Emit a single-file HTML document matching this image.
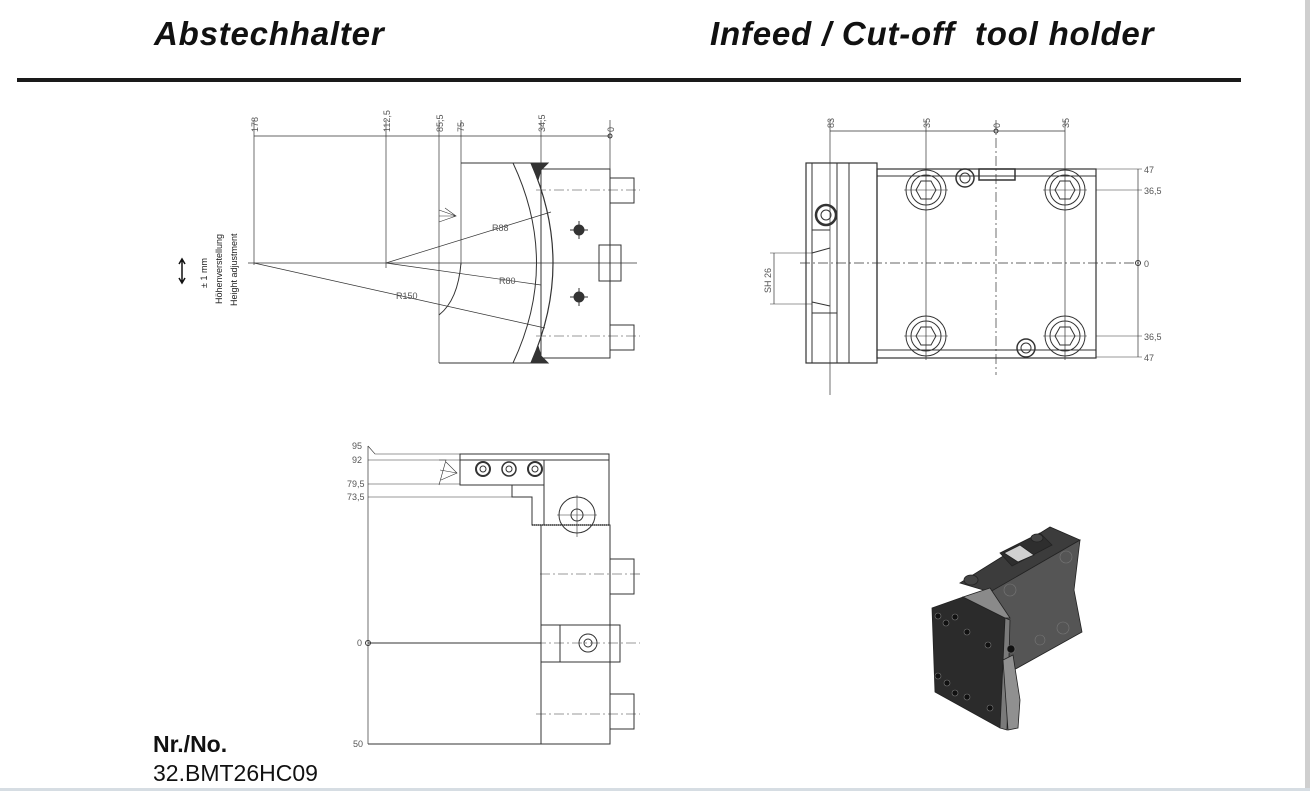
<!DOCTYPE html>
<html><head><meta charset="utf-8"><style>
html,body{margin:0;padding:0;background:#fff;}
body{width:1310px;height:791px;position:relative;overflow:hidden;font-family:"Liberation Sans",sans-serif;}
.h{position:absolute;top:15px;font-size:33px;font-weight:bold;font-style:italic;color:#111;letter-spacing:0.8px;}
svg{position:absolute;left:0;top:0;}
</style></head><body>
<div class="h" style="left:154px;">Abstechhalter</div>
<div class="h" style="left:710px;">Infeed / Cut-off&nbsp; tool holder</div>
<div style="position:absolute;left:17px;top:78px;width:1224px;height:4px;background:#1a1a1a;"></div>
<div style="position:absolute;left:1305px;top:0;width:5px;height:791px;background:#cfcfcf;"></div>
<div style="position:absolute;left:0;top:788px;width:1310px;height:3px;background:#d6dde3;"></div>
<div style="position:absolute;left:153px;top:731px;font-size:23px;font-weight:bold;color:#111;">Nr./No.</div>
<div style="position:absolute;left:153px;top:760px;font-size:23px;color:#111;">32.BMT26HC09</div>

<svg width="1310" height="791" viewBox="0 0 1310 791">
<g fill="none" stroke="#333" stroke-width="1" font-family="Liberation Sans, sans-serif">
<!-- FRONT VIEW -->
<line x1="254" y1="136" x2="610" y2="136" stroke-width="0.7"/>
<g stroke-width="0.7">
<line x1="254" y1="120" x2="254" y2="265"/><line x1="386" y1="120" x2="386" y2="268"/>
<line x1="439" y1="120" x2="439" y2="363"/><line x1="461" y1="120" x2="461" y2="265"/>
<line x1="541" y1="120" x2="541" y2="170"/><line x1="610" y1="120" x2="610" y2="170"/>
</g>
<circle cx="610" cy="136" r="2"/>
<line x1="248" y1="263" x2="637" y2="263" stroke-width="0.7"/>
<line x1="439" y1="363" x2="541" y2="363"/>
<line x1="461" y1="163" x2="541" y2="163"/>
<path d="M461 263 Q458 300 439 315"/>
<path d="M513 163 Q560 263 513 363"/>
<path d="M531 163 Q575 263 531 363" stroke-width="1.2"/>
<rect x="541" y="169" width="69" height="189"/>
<polygon points="531,163 548,163 541,170 538,180" fill="#333"/>
<polygon points="531,363 548,363 541,356 538,346" fill="#333"/>
<rect x="610" y="178" width="24" height="25"/><rect x="610" y="325" width="24" height="25"/>
<rect x="599" y="245" width="22" height="36"/>
<line x1="536" y1="190" x2="640" y2="190" stroke-dasharray="10 3 2 3" stroke-width="0.6"/>
<line x1="536" y1="336" x2="640" y2="336" stroke-dasharray="10 3 2 3" stroke-width="0.6"/>
<circle cx="579" cy="230" r="5" fill="#333"/><circle cx="579" cy="297" r="5" fill="#333"/>
<line x1="570" y1="230" x2="588" y2="230"/><line x1="579" y1="221" x2="579" y2="239"/>
<line x1="570" y1="297" x2="588" y2="297"/><line x1="579" y1="288" x2="579" y2="306"/>
<line x1="386" y1="263" x2="551" y2="212" stroke-width="0.7"/>
<line x1="386" y1="263" x2="541" y2="285" stroke-width="0.7"/>
<line x1="254" y1="263" x2="545" y2="328" stroke-width="0.7"/>
<path d="M439 210 L456 216 L439 222 M439 216 L456 216 M445 208 L456 216" stroke-width="0.6"/>
<g fill="#555" stroke="none" font-size="9">
<text transform="translate(258,132) rotate(-90)">178</text>
<text transform="translate(390,132) rotate(-90)">112,5</text>
<text transform="translate(443,132) rotate(-90)">85,5</text>
<text transform="translate(464,132) rotate(-90)">75</text>
<text transform="translate(545,132) rotate(-90)">34,5</text>
<text transform="translate(614,132) rotate(-90)">0</text>
<text x="492" y="231">R88</text>
<text x="499" y="284">R80</text>
<text x="396" y="299">R150</text>
<text transform="translate(207,288) rotate(-90)" fill="#222">± 1 mm</text>
<text transform="translate(222,304) rotate(-90)" fill="#222">Höhenverstellung</text>
<text transform="translate(237,306) rotate(-90)" fill="#222">Height  adjustment</text>
</g>
<path d="M182 260 L182 282 M179 264 L182 259 L185 264 M179 278 L182 283 L185 278" stroke="#111" stroke-width="1.5"/>

<!-- SIDE VIEW -->
<line x1="830" y1="131" x2="1065" y2="131" stroke-width="0.7"/>
<g stroke-width="0.7">
<line x1="830" y1="120" x2="830" y2="395"/><line x1="926" y1="120" x2="926" y2="360"/>
<line x1="1065" y1="120" x2="1065" y2="360"/>
</g>
<line x1="996" y1="120" x2="996" y2="375" stroke-dasharray="10 3 2 3" stroke-width="0.7"/>
<circle cx="996" cy="131" r="2"/>
<rect x="806" y="163" width="71" height="200" stroke-width="1.2"/>
<line x1="812" y1="163" x2="812" y2="363"/><line x1="837" y1="163" x2="837" y2="363"/><line x1="849" y1="163" x2="849" y2="363"/>
<rect x="877" y="169" width="219" height="189" stroke-width="1.2"/>
<line x1="877" y1="176" x2="1096" y2="176"/><line x1="877" y1="350" x2="1096" y2="350"/>
<line x1="812" y1="230" x2="830" y2="230"/><line x1="812" y1="313" x2="837" y2="313"/>
<path d="M812 253 L830 248 M812 302 L830 306"/>
<line x1="800" y1="263" x2="1140" y2="263" stroke-dasharray="10 3 2 3" stroke-width="0.7"/>
<g>
<circle cx="926" cy="190" r="20"/><circle cx="926" cy="190" r="15"/>
<circle cx="1065" cy="190" r="20"/><circle cx="1065" cy="190" r="15"/>
<circle cx="926" cy="336" r="20"/><circle cx="926" cy="336" r="15"/>
<circle cx="1065" cy="336" r="20"/><circle cx="1065" cy="336" r="15"/>
<polygon points="916,190 921,181 931,181 936,190 931,199 921,199"/>
<polygon points="1055,190 1060,181 1070,181 1075,190 1070,199 1060,199"/>
<polygon points="916,336 921,327 931,327 936,336 931,345 921,345"/>
<polygon points="1055,336 1060,327 1070,327 1075,336 1070,345 1060,345"/>
<path d="M904 190 H948 M1043 190 H1087 M904 336 H948 M1043 336 H1087" stroke-width="0.6"/>
</g>
<circle cx="965" cy="178" r="9" stroke-width="1.5"/><circle cx="965" cy="178" r="5"/>
<circle cx="1026" cy="348" r="9" stroke-width="1.5"/><circle cx="1026" cy="348" r="5"/>
<circle cx="826" cy="215" r="10" stroke-width="2.5"/><circle cx="826" cy="215" r="5"/>
<rect x="979" y="169" width="36" height="11" stroke-width="1.5"/>
<line x1="1138" y1="169" x2="1138" y2="357" stroke-width="0.7"/>
<path d="M1096 169 H1142 M1096 190 H1142 M1096 336 H1142 M1096 357 H1142" stroke-width="0.6"/>
<circle cx="1138" cy="263" r="2.5"/>
<line x1="774" y1="253" x2="774" y2="304" stroke-width="0.7"/>
<path d="M770 253 H812 M770 304 H812" stroke-width="0.6"/>
<g fill="#555" stroke="none" font-size="9">
<text transform="translate(834,128) rotate(-90)">83</text>
<text transform="translate(930,128) rotate(-90)">35</text>
<text transform="translate(1000,128) rotate(-90)">0</text>
<text transform="translate(1069,128) rotate(-90)">35</text>
<text x="1144" y="173">47</text><text x="1144" y="194">36,5</text>
<text x="1144" y="267">0</text><text x="1144" y="340">36,5</text><text x="1144" y="361">47</text>
<text transform="translate(771,293) rotate(-90)">SH 26</text>
</g>

<!-- TOP VIEW -->
<line x1="368" y1="446" x2="368" y2="744" stroke-width="0.7"/>
<path d="M368 446 L375 454 L460 454" stroke-width="0.6"/>
<path d="M368 460 H460 M368 484 H460 M368 497 H512" stroke-width="0.6"/>
<rect x="460" y="454" width="149" height="6"/>
<rect x="460" y="460" width="84" height="25"/>
<rect x="544" y="460" width="65" height="65"/>
<path d="M460 485 L512 485 L512 497 L532 497 L532 525 L544 525" />
<path d="M532 525 H610" stroke-width="1.5" stroke-dasharray="1 1"/>
<rect x="541" y="525" width="69" height="219"/>
<line x1="368" y1="744" x2="541" y2="744"/>
<line x1="368" y1="643" x2="541" y2="643"/>
<circle cx="368" cy="643" r="2.5"/>
<rect x="541" y="625" width="79" height="37"/><line x1="560" y1="625" x2="560" y2="662"/>
<circle cx="588" cy="643" r="9"/><circle cx="588" cy="643" r="4"/>
<line x1="536" y1="643" x2="640" y2="643" stroke-dasharray="10 3 2 3" stroke-width="0.6"/>
<rect x="610" y="559" width="24" height="35"/><rect x="610" y="694" width="24" height="35"/>
<line x1="540" y1="574" x2="640" y2="574" stroke-dasharray="10 3 2 3" stroke-width="0.6"/>
<line x1="536" y1="714" x2="640" y2="714" stroke-dasharray="10 3 2 3" stroke-width="0.6"/>
<circle cx="577" cy="515" r="18"/><circle cx="577" cy="515" r="6"/>
<path d="M557 515 H597 M577 495 V537" stroke-width="0.6"/>
<circle cx="483" cy="469" r="7" stroke-width="2"/><circle cx="483" cy="469" r="3"/>
<circle cx="509" cy="469" r="7" stroke-width="1.5"/><circle cx="509" cy="469" r="3"/>
<circle cx="535" cy="469" r="7" stroke-width="2"/><circle cx="535" cy="469" r="3"/>
<path d="M439 460 L446 460 L439 485 M446 462 L457 473 L441 480 M440 470 L457 473" stroke-width="0.6"/>
<g fill="#555" stroke="none" font-size="9">
<text x="352" y="449">95</text><text x="352" y="463">92</text>
<text x="347" y="487">79,5</text><text x="347" y="500">73,5</text>
<text x="357" y="646">0</text><text x="353" y="747">50</text>
</g>
</g>

<!-- 3D RENDER -->
<g stroke="#222" stroke-width="0.8">
<polygon points="990,590 1080,540 1074,590 1082,632 1003,676 1000,640" fill="#555"/>
<polygon points="960,583 1050,527 1080,540 990,592" fill="#3c3c3c"/>
<polygon points="1000,553 1040,533 1052,545 1012,566" fill="#2e2e2e"/>
<polygon points="1004,553 1020,545 1034,555 1018,562" fill="#d0d0d0"/>
<ellipse cx="971" cy="580" rx="7" ry="5" fill="#444"/>
<ellipse cx="1037" cy="538" rx="6" ry="4" fill="#444"/>
<polygon points="932,608 963,597 1005,618 1000,728 935,692" fill="#2b2b2b"/>
<polygon points="963,597 990,588 1010,618 1005,618" fill="#8a8a8a"/>
<polygon points="1005,618 1010,620 1007,730 1000,728" fill="#7a7a7a"/>
<polygon points="1003,660 1013,655 1020,700 1018,728 1008,730" fill="#909090"/>
</g>
<g fill="#111" stroke="#777" stroke-width="0.6">
<circle cx="938" cy="616" r="3"/><circle cx="946" cy="623" r="3"/><circle cx="955" cy="617" r="3"/>
<circle cx="967" cy="632" r="3"/><circle cx="988" cy="645" r="3"/><circle cx="938" cy="676" r="3"/>
<circle cx="947" cy="683" r="3"/><circle cx="955" cy="693" r="3"/><circle cx="967" cy="697" r="3"/><circle cx="990" cy="708" r="3"/>
<circle cx="1066" cy="557" r="6" fill="#555"/><circle cx="1010" cy="590" r="6" fill="#555"/>
<circle cx="1063" cy="628" r="6" fill="#555"/><circle cx="1040" cy="640" r="5" fill="#555"/>
<circle cx="1011" cy="649" r="4"/>
</g>
</svg>
</body></html>
